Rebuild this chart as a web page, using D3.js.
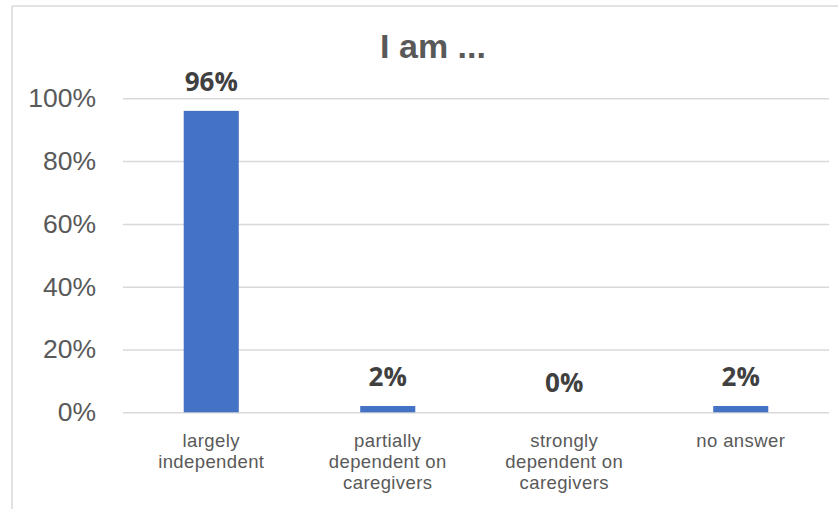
<!DOCTYPE html>
<html>
<head>
<meta charset="utf-8">
<script src="https://cdn.jsdelivr.net/npm/d3@7"></script>
<style>
  html, body { margin: 0; padding: 0; background: #ffffff; }
  svg { display: block; }
</style>
</head>
<body>
<svg id="chart" width="838" height="509"></svg>
<script>
const title = "I am ...";
const categories = ["largely independent", "partially dependent on caregivers", "strongly dependent on caregivers", "no answer"];
const values = [0.96, 0.02, 0.00, 0.02];
const tickValues = [0, 0.2, 0.4, 0.6, 0.8, 1.0];

const W = 838, H = 509;
const plot = { left: 123, right: 829, top: 98.3, bottom: 412.3 };
const svg = d3.select("#chart");

// chart border (top and left edges visible)
svg.append("line").attr("x1", 12).attr("x2", W).attr("y1", 6).attr("y2", 6)
  .attr("stroke", "#d9d9d9").attr("stroke-width", 1.5);
svg.append("line").attr("x1", 12).attr("x2", 12).attr("y1", 6).attr("y2", H)
  .attr("stroke", "#d9d9d9").attr("stroke-width", 1.5);

const x = d3.scaleBand().domain(categories).range([plot.left, plot.right])
  .paddingInner(0.688).paddingOuter(0.344);
const y = d3.scaleLinear().domain([0, 1]).range([plot.bottom, plot.top]);

// y axis with gridlines
const yAxis = svg.append("g")
  .attr("transform", `translate(${plot.left},0)`)
  .call(d3.axisLeft(y).tickValues(tickValues).tickFormat(d3.format(".0%"))
    .tickSize(-(plot.right - plot.left)).tickPadding(27));
yAxis.select(".domain").remove();
yAxis.selectAll(".tick line").attr("stroke", "#d9d9d9").attr("stroke-width", 1.5);
yAxis.selectAll(".tick text")
  .attr("fill", "#595959")
  .style("font-family", "'Liberation Sans', Arial, sans-serif")
  .style("font-size", "26.5px");

// bars
svg.append("g").selectAll("rect").data(values).join("rect")
  .attr("x", (d, i) => x(categories[i]))
  .attr("width", x.bandwidth())
  .attr("y", d => y(d))
  .attr("height", d => y(0) - y(d))
  .attr("fill", "#4472C4");

// data labels
svg.append("g").selectAll("text").data(values).join("text")
  .attr("x", (d, i) => x(categories[i]) + x.bandwidth() / 2)
  .attr("y", d => y(d) - 20)
  .attr("text-anchor", "middle")
  .attr("fill", "#404040")
  .style("font-family", "'Open Sans', sans-serif")
  .style("font-weight", "bold")
  .style("font-size", "26px")
  .text(d => d3.format(".0%")(d));

// category labels (wrapped)
function wrapWords(text, maxChars) {
  const words = text.split(" ");
  const lines = [];
  let cur = "";
  words.forEach(w => {
    const t = cur ? cur + " " + w : w;
    if (t.length > maxChars && cur) { lines.push(cur); cur = w; }
    else cur = t;
  });
  if (cur) lines.push(cur);
  return lines;
}
const catG = svg.append("g");
categories.forEach(c => {
  const lines = wrapWords(c, 12);
  const t = catG.append("text")
    .attr("x", x(c) + x.bandwidth() / 2)
    .attr("y", 446.5)
    .attr("text-anchor", "middle")
    .attr("fill", "#595959")
    .style("font-family", "'Liberation Sans', Arial, sans-serif")
    .style("font-size", "18.5px")
    .style("letter-spacing", "0.4px");
  lines.forEach((l, i) => {
    t.append("tspan").attr("x", x(c) + x.bandwidth() / 2).attr("dy", i === 0 ? 0 : 21.3).text(l);
  });
});

// title
svg.append("text")
  .attr("x", 433).attr("y", 58)
  .attr("text-anchor", "middle")
  .attr("fill", "#595959")
  .style("font-family", "'Liberation Sans', Arial, sans-serif")
  .style("font-weight", "bold")
  .style("font-size", "34px")
  .text(title);
</script>
</body>
</html>
